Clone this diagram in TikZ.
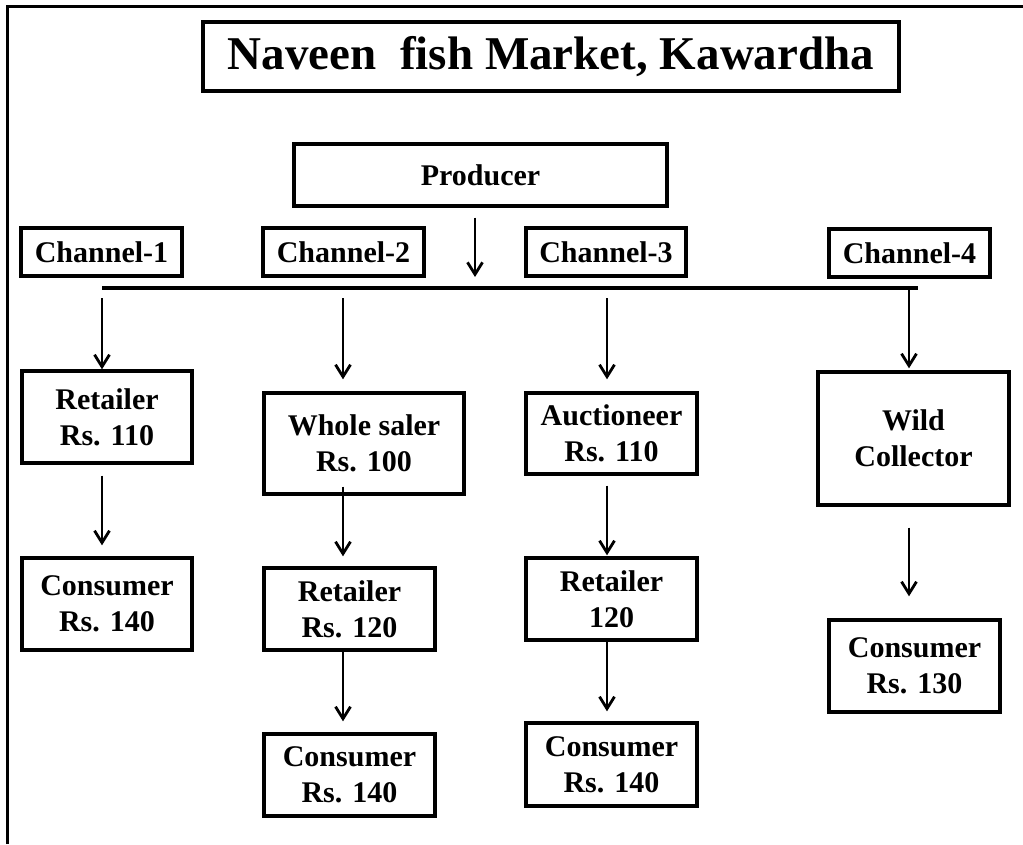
\documentclass[tikz,border=0pt]{standalone}
\usepackage{fontspec}
\setmainfont{Liberation Serif}
\usetikzlibrary{arrows.meta}

\begin{document}
\begin{tikzpicture}[
    x=1pt, y=-1pt,
    box/.style={draw, line width=3.4pt, align=center, inner sep=0pt,
                font=\fontsize{30}{36}\selectfont\bfseries},
    arrow/.style={-{Straight Barb[length=12pt,width=15pt]}, line width=2.8pt},
    busline/.style={line width=3.4pt}
]
    \useasboundingbox (0,0) rectangle (1023,844);
    % frame
    \draw[line width=3pt] (7,844) -- (7,6) -- (1023,6);

    % title and producer
    \node[box, minimum width=696pt, minimum height=69pt,
          font=\fontsize{47}{52}\selectfont\bfseries] (title) at (551,56.5)
        {Naveen\ \ fish Market, Kawardha};
    \node[box, minimum width=373pt, minimum height=62pt] (prod) at (480.5,175) {Producer};

    % channels
    \node[box, minimum width=161pt, minimum height=48pt] (ch1) at (101.5,252) {Channel-1};
    \node[box, minimum width=161pt, minimum height=48pt] (ch2) at (343.5,252) {Channel-2};
    \node[box, minimum width=160pt, minimum height=48pt] (ch3) at (606,252) {Channel-3};
    \node[box, minimum width=161pt, minimum height=48pt] (ch4) at (909.5,253) {Channel-4};

    % channel-1
    \node[box, minimum width=170pt, minimum height=92pt] (ret1) at (107,417) {Retailer\\Rs. 110};
    \node[box, minimum width=170pt, minimum height=92pt] (con1) at (107,604) {Consumer\\Rs. 140};

    % channel-2
    \node[box, minimum width=200pt, minimum height=101pt] (whole) at (364,443.5) {Whole saler\\Rs. 100};
    \node[box, minimum width=171pt, minimum height=82pt] (ret2) at (349.5,609) {Retailer\\Rs. 120};
    \node[box, minimum width=171pt, minimum height=82pt] (con2) at (349.5,775) {Consumer\\Rs. 140};

    % channel-3
    \node[box, minimum width=171pt, minimum height=81pt] (auct) at (611.5,433.5) {Auctioneer\\Rs. 110};
    \node[box, minimum width=171pt, minimum height=82pt] (ret3) at (611.5,599) {Retailer\\120};
    \node[box, minimum width=171pt, minimum height=83pt] (con3) at (611.5,764.5) {Consumer\\Rs. 140};

    % channel-4
    \node[box, minimum width=191pt, minimum height=133pt] (wild) at (913.5,438.5) {Wild\\Collector};
    \node[box, minimum width=171pt, minimum height=92pt] (con4) at (914.5,666) {Consumer\\Rs. 130};

    % distribution line
    \coordinate (busL) at (102,288);
    \coordinate (busR) at (918,288);
    \coordinate (hub) at (475,288);
    \coordinate (k1) at (102,288);
    \coordinate (k2) at (343,288);
    \coordinate (k3) at (607,288);
    \coordinate (k4) at (909,288);
    \draw[busline] (busL) -- (busR);
    \draw[arrow, shorten <=10pt, shorten >=11pt] (prod.south -| hub) -- (hub);

    % drops from the line
    \draw[arrow, shorten <=10pt] (k1) -- (k1 |- ret1.north);
    \draw[arrow, shorten <=10pt, shorten >=12pt] (k2) -- (k2 |- whole.north);
    \draw[arrow, shorten <=10pt, shorten >=12pt] (k3) -- (k3 |- auct.north);
    \draw[arrow, shorten >=2pt] (k4) -- (k4 |- wild.north);

    % flows inside the channels
    \draw[arrow, shorten <=11pt, shorten >=11pt] (k1 |- ret1.south) -- (k1 |- con1.north);
    \draw[arrow, shorten <=-9pt, shorten >=10pt] (k2 |- whole.south) -- (k2 |- ret2.north);
    \draw[arrow, shorten >=11pt] (k2 |- ret2.south) -- (k2 |- con2.north);
    \draw[arrow, shorten <=10pt, shorten >=1pt] (k3 |- auct.south) -- (k3 |- ret3.north);
    \draw[arrow, shorten >=10pt] (k3 |- ret3.south) -- (k3 |- con3.north);
    \draw[arrow, shorten <=21pt, shorten >=22pt] (k4 |- wild.south) -- (k4 |- con4.north);
\end{tikzpicture}
\end{document}
